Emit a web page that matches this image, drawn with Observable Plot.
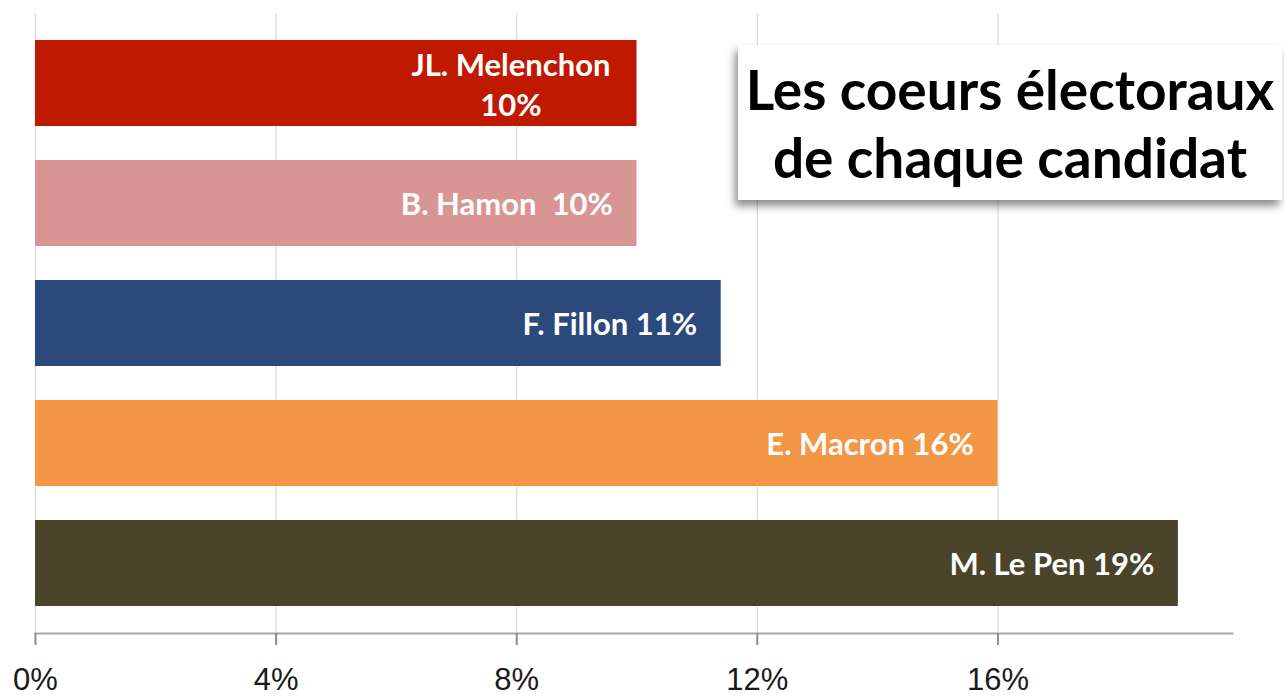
<!DOCTYPE html>
<html>
<head>
<meta charset="utf-8">
<script src="https://cdn.jsdelivr.net/npm/d3@7"></script>
<script src="https://cdn.jsdelivr.net/npm/@observablehq/plot@0.6"></script>
<style>
  html, body { margin: 0; padding: 0; background: #fff; }
  #wrap { position: relative; width: 1285px; height: 698px; overflow: hidden; }
  #title {
    position: absolute; left: 738px; top: 45px; width: 544px; height: 155px;
    background: #fff; box-shadow: -3px 6px 8px rgba(0,0,0,0.45);
    font-family: Lato, sans-serif; font-weight: 700; font-size: 55px; line-height: 68px;
    color: #000; box-sizing: border-box; padding: 10px 0 0 0; text-align: center;
    white-space: nowrap;
  }
  svg text { white-space: pre; }
</style>
</head>
<body>
<div id="wrap">
  <div id="chart"></div>
  <div id="title"><div>Les coeurs électoraux</div><div>de chaque candidat</div></div>
</div>
<script>
const candidates = ["JL. Melenchon", "B. Hamon", "F. Fillon", "E. Macron", "M. Le Pen"];
const values = [10, 10, 11.4, 16, 19];
const labels = ["JL. Melenchon\n10%", "B. Hamon  10%", "F. Fillon 11%", "E. Macron 16%", "M. Le Pen 19%"];
const colors = ["#bf1a00", "#d99594", "#2c497c", "#f39646", "#4a452a"];
const tickValues = [0, 4, 8, 12, 16];

const data = candidates.map((c, i) => ({name: c, value: values[i], label: labels[i], color: colors[i]}));
const single = data.filter(d => !d.label.includes("\n"));
const multi = data.filter(d => d.label.includes("\n"));

const chart = Plot.plot({
  width: 1285,
  height: 698,
  marginLeft: 35,
  marginRight: 53,
  marginTop: 13,
  marginBottom: 65,
  style: {fontFamily: "'Liberation Sans', Arial, sans-serif", background: "#fff"},
  x: {domain: [0, 19.9], ticks: tickValues, tickFormat: d => d + "%"},
  y: {type: "band", domain: candidates, paddingInner: 0.28, paddingOuter: 0.207, axis: null},
  marks: [
    Plot.gridX({ticks: tickValues, stroke: "#d9d9d9", strokeOpacity: 1, strokeWidth: 1.2}),
    Plot.barX(data, {x: "value", y: "name", fill: "color"}),
    Plot.frame({anchor: "bottom", stroke: "#a6a6a6", strokeWidth: 2}),
    Plot.axisX({ticks: tickValues, tickFormat: d => d + "%", tickSize: 12, tickPadding: 22,
      stroke: "#8c8c8c", strokeWidth: 2, fontSize: 31, fill: "#1a1a1a", label: null}),
    Plot.text(single, {x: "value", y: "name", text: "label", textAnchor: "end", dx: -24, dy: 2,
      fill: "#fff", fontSize: 31, fontWeight: "bold", fontFamily: "Lato, sans-serif"}),
    Plot.text(multi, {x: "value", y: "name", text: "label", textAnchor: "middle", dx: -126, dy: 0,
      lineHeight: 1.29, fill: "#fff", fontSize: 31, fontWeight: "bold", fontFamily: "Lato, sans-serif"})
  ]
});
document.getElementById("chart").appendChild(chart);
</script>
</body>
</html>
